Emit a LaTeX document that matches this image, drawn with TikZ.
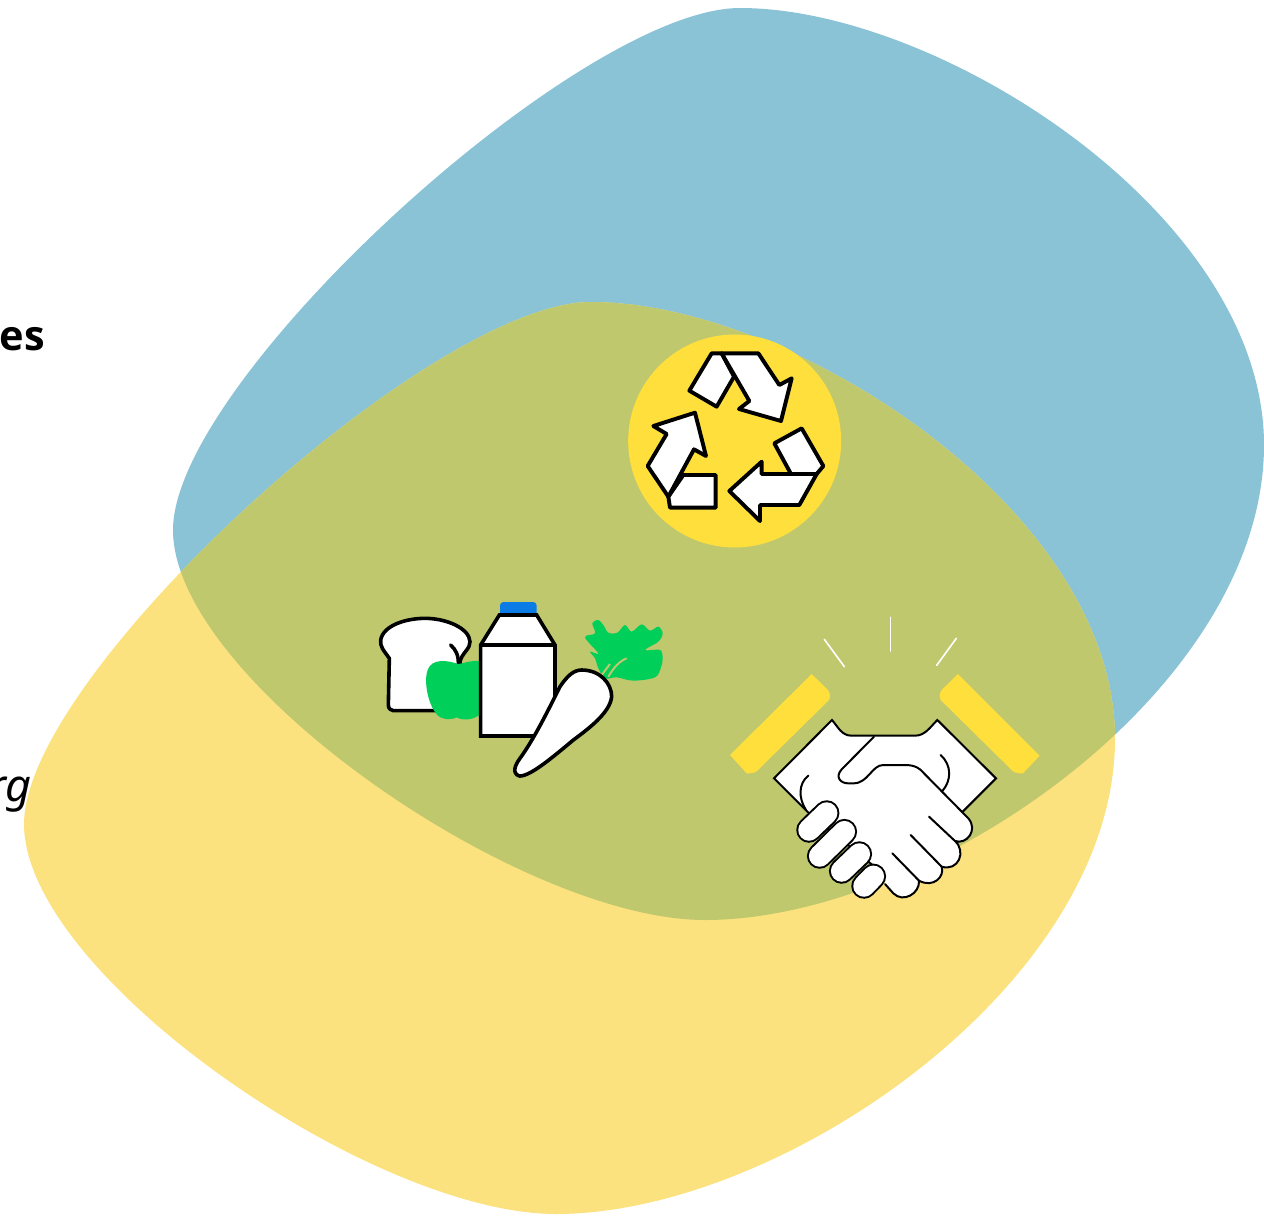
\documentclass[tikz,border=0pt]{standalone}
\usepackage{fontspec}
\setmainfont{Open Sans}
\newfontfamily\labelitalic[ItalicFont={Noto Sans Italic}]{Noto Sans}
\definecolor{blobblue}{HTML}{8AC3D6}
\definecolor{blobyellow}{HTML}{FBE27F}
\definecolor{bloboverlap}{HTML}{C0C86E}
\definecolor{sunyellow}{HTML}{FFDF3C}
\definecolor{leafgreen}{HTML}{00CF5A}
\definecolor{capblue}{HTML}{0B7BE6}
\newcommand{\blobpath}{(740,8) .. controls (940,8) and (1264,215) .. (1264,445) .. controls (1264,690) and (930,920) .. (705,920) .. controls (520,920) and (173,680) .. (173,530) .. controls (173,380) and (580,8) .. (740,8) -- cycle}
\tikzset{
  icon/.style={draw=black,fill=white,line join=round,line cap=round},
  recyc/.style={icon,line width=3.9pt},
  food/.style={icon,line width=3.6pt},
  shake/.style={icon,line width=2pt},
  thinline/.style={draw=black,line width=2pt,line cap=round},
  spark/.style={draw=white,line width=1.6pt,line cap=round},
  label/.style={inner sep=0pt,anchor=base east}
}
\begin{document}
\begin{tikzpicture}[x=1pt,y=-1pt]
\useasboundingbox (0,0) rectangle (1264,1216);
\fill[blobblue] \blobpath;
\begin{scope}[shift={(-149pt,-294pt)}]
\fill[blobyellow] \blobpath;
\end{scope}
\begin{scope}
\clip \blobpath;
\begin{scope}[shift={(-149pt,-294pt)}]
\fill[bloboverlap] \blobpath;
\end{scope}
\end{scope}
\node[label,font=\fontsize{41.5}{48}\selectfont\bfseries] (es) at (45,350) {es};
\node[label,font=\fontsize{45}{52}\selectfont\labelitalic\itshape] (rg) at (32,801) {rg};
% recycle
\begin{scope}[shift={(620pt,-330pt)},x=0.33333pt,y=-0.33333pt]
\fill[sunyellow] (344,333) circle[radius=106.5pt];
\path[recyc] (275,70) -- (305,70) -- (342,140) -- (290,230) -- (208,182) -- cycle;
\path[recyc] (305,70) -- (415,70) -- (478,165) -- (515,145) -- (483,273) -- (357,237) -- (388,213) -- cycle;
\path[recyc] (190,435) -- (287,435) -- (287,533) -- (150,533) -- (145,500) -- cycle;
\path[recyc] (225,248) -- (258,378) -- (222,358) -- (145,500) -- (83,408) -- (140,312) -- (100,288) -- cycle;
\path[recyc] (463,340) -- (545,295) -- (610,408) -- (590,432) -- (513,432) -- cycle;
\path[recyc] (425,395) -- (425,432) -- (590,432) -- (538,525) -- (420,525) -- (420,573) -- (328,483) -- cycle;
\end{scope}
% food
\begin{scope}[shift={(360pt,-590pt)},x=0.33333pt,y=-0.33333pt]
\path[food] (88,205) .. controls (70,180) and (60,170) .. (62,150) .. controls (70,105) and (140,85) .. (195,85) .. controls (260,85) and (328,115) .. (330,155) .. controls (332,175) and (305,190) .. (300,215) -- (300,362) -- (100,362) .. controls (92,362) and (85,355) .. (85,345) -- cycle;
\draw[line width=3.6pt,line cap=round] (272,165) .. controls (288,180) and (296,195) .. (295,225);
\fill[leafgreen] (295,222) .. controls (260,210) and (215,205) .. (203,240) .. controls (190,275) and (205,350) .. (235,378) .. controls (255,392) and (280,388) .. (290,382) .. controls (305,392) and (345,392) .. (365,368) -- (365,215) .. controls (340,208) and (320,218) .. (295,222) -- cycle;
\fill[capblue,rounded corners=3.5pt] (420,78) -- (420,36) -- (530,36) -- (530,78) -- cycle;
\path[food,line join=miter] (362,165) -- (418,75) -- (530,75) -- (585,165) -- (585,438) -- (362,438) -- cycle;
\draw[line width=3.6pt] (362,165) -- (585,165);
\fill[leafgreen] plot[smooth cycle,tension=0.55] coordinates {(697,100) (715,90) (730,105) (745,128) (772,128) (795,105) (815,125) (845,103) (870,122) (895,110) (908,130) (895,155) (855,180) (900,180) (908,205) (903,232) (885,262) (820,272) (770,262) (735,265) (715,235) (705,205) (690,185) (715,190) (675,142) (705,130)};
\draw[bloboverlap,line width=2pt] (725,255) -- (750,222);
\draw[bloboverlap,line width=2pt] (745,260) .. controls (760,235) and (775,215) .. (800,205);
\path[food] (665,240) .. controls (720,240) and (755,280) .. (755,320) .. controls (750,370) and (680,420) .. (640,450) .. controls (580,500) and (510,560) .. (478,558) .. controls (455,550) and (465,525) .. (480,505) .. controls (520,450) and (560,370) .. (600,290) .. controls (620,260) and (640,240) .. (665,240) -- cycle;
\end{scope}
% handshake
\begin{scope}[shift={(720pt,-610pt)},x=0.33333pt,y=-0.33333pt]
\fill[sunyellow] (275,192) -- (322,238) .. controls (332,248) and (332,265) .. (325,272) -- (112,482) .. controls (105,490) and (90,490) .. (80,490) -- (30,435) -- cycle;
\fill[sunyellow] (714,192) -- (667,238) .. controls (657,248) and (657,265) .. (664,272) -- (877,482) .. controls (884,490) and (899,490) .. (909,490) -- (959,437) -- cycle;
\draw[spark] (313,88) -- (373,170);
\draw[spark] (511,22) -- (511,123);
\draw[spark] (709,85) -- (650,166);
\path[shake,line join=miter] (262,605) -- (162,505) -- (336,330) .. controls (355,352) and (365,377) .. (395,377) -- (585,377) .. controls (615,377) and (630,352) .. (652,330) -- (828,505) -- (728,605) -- (500,800) -- cycle;
\draw[thinline] (662,435) .. controls (695,465) and (695,510) .. (668,542);
\draw[thinline] (265,497) .. controls (235,520) and (235,565) .. (258,600);
\path[shake] (462,380) -- (365,478) .. controls (345,500) and (360,520) .. (385,520) -- (400,520) .. controls (445,520) and (455,465) .. (490,465) -- (555,465) .. controls (585,465) and (600,475) .. (612,490) -- (745,625) .. controls (775,660) and (740,705) .. (705,693) .. controls (740,725) and (715,785) .. (665,770) .. controls (675,800) and (640,835) .. (597,812) .. controls (600,850) and (550,880) .. (520,850) -- (495,822);
\draw[thinline] (627,620) -- (705,693);
\draw[thinline] (572,675) -- (665,770);
\draw[thinline] (517,730) -- (597,812);
\foreach \ax/\ay/\bx/\by in {267/660/320/609, 299/738/373/665, 365/783/418/732, 432/828/460/799}{
  \draw[line cap=round,line width=25.5pt] (\ax,\ay) -- (\bx,\by);
  \draw[white,line cap=round,line width=21.5pt] (\ax,\ay) -- (\bx,\by);
}
\end{scope}
\end{tikzpicture}
\end{document}
